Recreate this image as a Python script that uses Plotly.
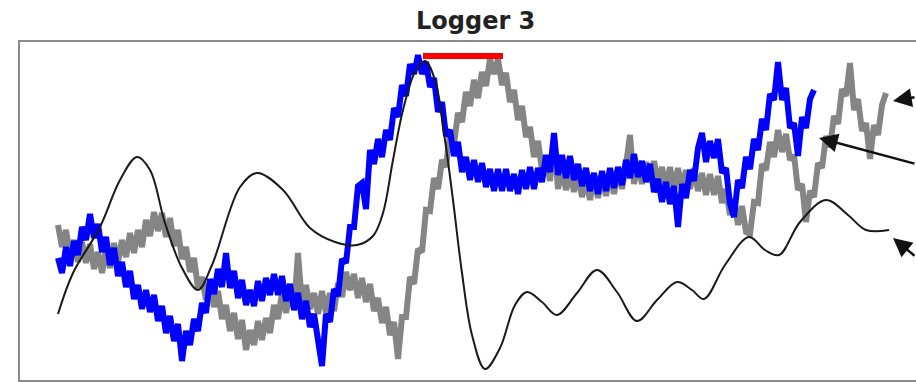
import numpy as np
import plotly.graph_objects as go

# --- Logger 3 readings -------------------------------------------------------
# Sample times (same clock for every channel)
t_start = 58
t_step = 4

# Grey channel (noisy), one reading every t_step
grey_vals = [
    156, 134, 151, 125, 141, 119, 139, 118, 137, 112, 129, 108, 132, 113, 138, 119,
    141, 124, 148, 128, 151, 134, 161, 145, 169, 150, 168, 144, 163, 135, 151, 122,
    134, 109, 123, 93, 104, 81, 99, 74, 90, 62, 76, 50, 68, 42, 61, 31,
    51, 36, 60, 41, 63, 48, 76, 62, 88, 68, 90, 72, 128, 76, 96, 72,
    88, 67, 90, 68, 88, 70, 98, 84, 109, 91, 107, 83, 103, 79, 97, 70,
    83, 58, 74, 46, 59, 22, 64, 64, 104, 97, 132, 129, 171, 170, 203, 192,
    221, 214, 248, 237, 268, 259, 289, 275, 301, 283, 309, 295, 322, 307, 322, 296,
    308, 279, 291, 261, 275, 244, 254, 224, 240, 211, 225, 200, 242, 192, 212, 191,
    209, 189, 208, 184, 202, 181, 203, 183, 205, 185, 206, 187, 212, 192, 216, 246,
    197, 217, 197, 219, 200, 220, 196, 214, 193, 214, 191, 213, 192, 211, 192, 213,
    190, 208, 186, 207, 186, 205, 178, 192, 166, 182, 156, 175, 149, 147, 179, 178,
    217, 211, 239, 224, 251, 229, 247, 221, 226, 191, 197, 159, 190, 184, 218, 213,
    245, 234, 265, 257, 292, 285, 318, 271, 282, 250, 258, 222, 256, 246, 276, 288,
]

# Blue channel (noisy), one reading every t_step
blue_vals = [
    123, 108, 134, 115, 140, 126, 154, 141, 167, 143, 157, 129, 144, 116, 133, 105,
    119, 94, 110, 82, 96, 72, 91, 69, 86, 60, 75, 48, 65, 40, 57, 20,
    50, 36, 62, 50, 78, 68, 102, 87, 112, 94, 128, 93, 110, 83, 101, 76,
    91, 75, 100, 80, 103, 86, 107, 86, 105, 80, 97, 71, 88, 62, 80, 54,
    67, 42, 15, 67, 59, 92, 85, 122, 118, 154, 154, 195, 198, 172, 231, 217,
    242, 224, 251, 241, 273, 264, 296, 285, 317, 307, 326, 307, 319, 294, 303, 269,
    279, 245, 251, 225, 239, 209, 224, 201, 221, 199, 218, 194, 212, 190, 212, 190,
    212, 190, 207, 187, 211, 192, 214, 192, 213, 199, 226, 209, 248, 206, 226, 203,
    225, 201, 217, 195, 213, 190, 208, 187, 210, 190, 213, 193, 214, 196, 221, 203,
    227, 204, 220, 199, 217, 189, 202, 179, 199, 177, 195, 154, 197, 183, 211, 200,
    233, 248, 219, 240, 223, 242, 208, 213, 177, 164, 201, 193, 224, 212, 242, 231,
    262, 251, 287, 281, 319, 281, 293, 253, 258, 225, 264, 253, 282, 291,
]

# Black channel (smooth model curve): knot times and values
black_t = [58, 73, 100, 120, 137, 150, 165, 182, 198, 212, 240, 257, 283, 310, 335,
           357, 373, 383, 393, 403, 415, 425, 435, 445, 453, 462, 472, 485, 500, 515,
           527, 542, 557, 577, 597, 617, 637, 657, 677, 692, 704, 725, 749, 765, 779,
           800, 826, 848, 866, 889]
black_vals = [67, 108, 154, 201, 224, 211, 158, 113, 91, 116, 194, 208, 191, 153, 139,
              136, 145, 168, 221, 271, 309, 320, 301, 241, 181, 108, 46, 12, 33, 76,
              89, 79, 66, 88, 111, 89, 60, 81, 99, 91, 82, 116, 144, 131, 126,
              159, 181, 166, 151, 151]

# Red marker bar: span and level
red_t = [423, 503]
red_level = 325

# Arrow callouts: (tip time, tip value, tail dx px, tail dy px)
arrow_tips_t = [893, 819, 893]
arrow_tips_v = [280, 243, 143]
arrow_dx = [40, 140, 40]
arrow_dy = [-4, 26, 19]

title_text = "Logger 3"

grey_t = t_start + t_step * np.arange(len(grey_vals))
blue_t = t_start + t_step * np.arange(len(blue_vals))

fig = go.Figure()

fig.add_trace(go.Scatter(
    x=grey_t, y=grey_vals, mode="lines",
    line=dict(color="#858585", width=6), hoverinfo="skip",
))
fig.add_trace(go.Scatter(
    x=blue_t, y=blue_vals, mode="lines",
    line=dict(color="#0000ff", width=6), hoverinfo="skip",
))
fig.add_trace(go.Scatter(
    x=black_t, y=black_vals, mode="lines",
    line=dict(color="#1a1a1a", width=2, shape="spline", smoothing=1.0),
    hoverinfo="skip",
))
fig.add_trace(go.Scatter(
    x=red_t, y=[red_level, red_level], mode="lines",
    line=dict(color="#ff0000", width=6), hoverinfo="skip",
))

annotations = []
for tx, tv, dx, dy in zip(arrow_tips_t, arrow_tips_v, arrow_dx, arrow_dy):
    annotations.append(dict(
        x=tx, y=tv, xref="x", yref="y", ax=dx, ay=dy, text="",
        showarrow=True, arrowhead=2, arrowsize=1.5, arrowwidth=2.5,
        arrowcolor="#111111", standoff=0,
    ))

annotations.append(dict(
    x=(475 - 19) / 897, y=1 + (41 - 21) / 340, xref="paper", yref="paper",
    text="<b>" + title_text + "</b>", showarrow=False,
    xanchor="center", yanchor="middle",
    font=dict(family="DejaVu Sans", size=24, color="#222222"),
))

fig.update_layout(
    width=916, height=382,
    margin=dict(l=19, r=0, t=41, b=1, pad=0),
    paper_bgcolor="white", plot_bgcolor="white",
    showlegend=False,
    xaxis=dict(range=[19, 916], visible=False, fixedrange=True),
    yaxis=dict(range=[0, 340], visible=False, fixedrange=True),
    annotations=annotations,
    shapes=[dict(
        type="rect", xref="paper", yref="paper", x0=0, x1=1.2, y0=0, y1=1,
        line=dict(color="#8a8a8a", width=2), layer="below",
    )],
)

fig.write_html("out.html")
